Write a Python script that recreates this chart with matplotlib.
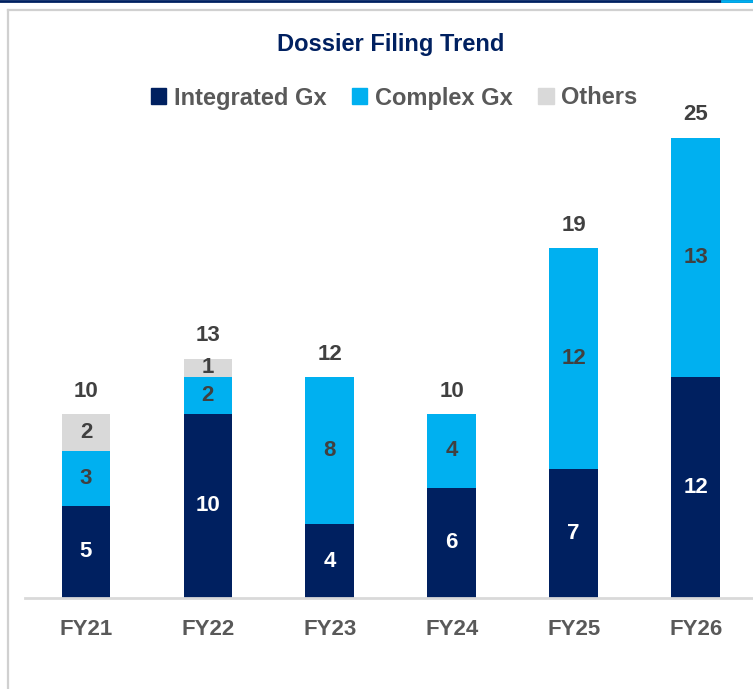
import numpy as np
import matplotlib.pyplot as plt
from matplotlib.patches import Patch
from matplotlib.lines import Line2D

plt.rcParams['font.family'] = ['Liberation Sans', 'DejaVu Sans']
plt.rcParams['font.weight'] = 'bold'

# data
years = ['FY21', 'FY22', 'FY23', 'FY24', 'FY25', 'FY26']
integrated = [5, 10, 4, 6, 7, 12]
complex_gx = [3, 2, 8, 4, 12, 13]
others = [2, 1, 0, 0, 0, 0]
totals = [10, 13, 12, 10, 19, 25]

navy = '#002060'
cyan = '#00B0F0'
grey = '#D9D9D9'
txt = '#595959'
lab = '#404040'

fig = plt.figure(figsize=(7.53, 6.89), dpi=100)
ax = fig.add_axes([25 / 753, 91 / 689, 728 / 753, 497 / 689])

x = np.arange(len(years))
w = 0.40
ax.bar(x, integrated, w, color=navy)
ax.bar(x, complex_gx, w, bottom=integrated, color=cyan)
bot2 = np.array(integrated) + np.array(complex_gx)
ax.bar(x, others, w, bottom=bot2, color=grey)

fs = 16
for i in range(len(years)):
    ax.text(x[i], integrated[i] / 2, str(integrated[i]), ha='center', va='center',
            color='white', fontsize=fs, fontweight='bold')
    ax.text(x[i], integrated[i] + complex_gx[i] / 2, str(complex_gx[i]), ha='center',
            va='center', color=lab, fontsize=fs, fontweight='bold')
    if others[i] > 0:
        ax.text(x[i], bot2[i] + others[i] / 2, str(others[i]), ha='center', va='center',
                color=lab, fontsize=fs, fontweight='bold')
    ax.annotate(str(totals[i]), (x[i], totals[i]), xytext=(0, 16.5),
                textcoords='offset points', ha='center', va='center',
                color=lab, fontsize=fs, fontweight='bold')

ax.set_xlim(-0.5, 5.47)
ax.set_ylim(0, 27)
ax.set_xticks(x)
ax.set_xticklabels(years, fontsize=16, fontweight='bold', color=txt)
ax.tick_params(axis='x', length=0, pad=15)
ax.set_yticks([])
for s in ['top', 'right', 'left']:
    ax.spines[s].set_visible(False)
ax.spines['bottom'].set_color(grey)
ax.spines['bottom'].set_linewidth(2)

fig.text(391 / 753, 1 - 44 / 689, 'Dossier Filing Trend', ha='center', va='center',
         color=navy, fontsize=17, fontweight='bold')

handles = [Patch(color=navy, label='Integrated Gx'),
           Patch(color=cyan, label='Complex Gx'),
           Patch(color=grey, label='Others')]
leg = fig.legend(handles=handles, loc='center', bbox_to_anchor=(394 / 753, 1 - 98 / 689),
                 ncol=3, frameon=False, handlelength=0.65, handleheight=0.65,
                 handletextpad=0.3, columnspacing=1.1,
                 prop={'size': 17, 'weight': 'bold'})
for t in leg.get_texts():
    t.set_color(txt)

# frame decoration
fig.add_artist(Line2D([0, 1], [1 - 1 / 689, 1 - 1 / 689], color=navy, lw=2))
fig.add_artist(Line2D([722 / 753, 1], [1 - 1 / 689, 1 - 1 / 689], color=cyan, lw=2))
fig.add_artist(Line2D([8 / 753, 1], [1 - 10 / 689, 1 - 10 / 689], color='#D0D0D0', lw=1.6))
fig.add_artist(Line2D([8 / 753, 8 / 753], [0, 1 - 10 / 689], color='#D0D0D0', lw=1.6))

fig.savefig('out.png', dpi=100)
